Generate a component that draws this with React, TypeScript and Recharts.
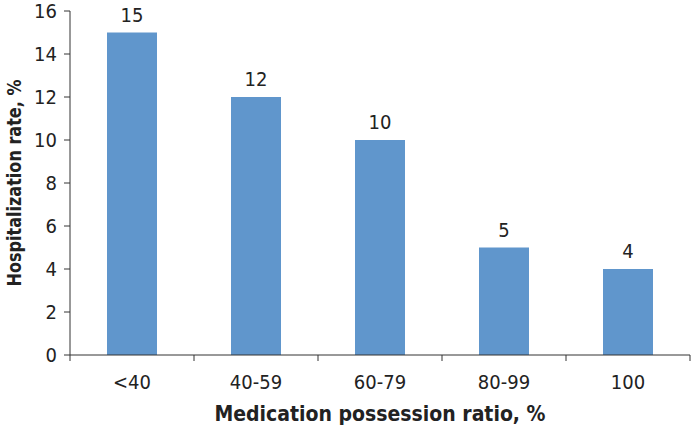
import React from 'react';
import { BarChart, Bar, XAxis, YAxis, LabelList } from 'recharts';

const categories = ['<40', '40-59', '60-79', '80-99', '100'];
const hospitalizationRate = [15, 12, 10, 5, 4];
const yTicks = [0, 2, 4, 6, 8, 10, 12, 14, 16];

const data = categories.map((ratio, i) => ({ ratio, rate: hospitalizationRate[i] }));

const FONT = '"DejaVu Sans Condensed", "Roboto", sans-serif';
const AXIS = '#333';
const TEXT = '#222';

const CategoryTick = (props: any) => {
    const { x, y, payload, index, visibleTicksCount, width } = props;
    const half = width / visibleTicksCount / 2;
    return (
        <g>
            <line x1={x - half} x2={x - half} y1={y} y2={y + 6} stroke={AXIS} />
            {index === visibleTicksCount - 1 && (
                <line x1={x + half} x2={x + half} y1={y} y2={y + 6} stroke={AXIS} />
            )}
            <text x={x} y={y + 34} textAnchor="middle" fill={TEXT} fontSize={20} fontFamily={FONT}>
                {payload.value}
            </text>
        </g>
    );
};

// rotated y title, squeezed to the narrow face of the original
const YTitle = (props: any) => {
    const { viewBox } = props;
    const cx = 14;
    const cy = viewBox.y + viewBox.height / 2;
    return (
        <text
            x={cx}
            y={cy}
            transform={`rotate(-90 ${cx} ${cy})`}
            textAnchor="middle"
            dominantBaseline="central"
            fill={TEXT}
            fontSize={20}
            fontWeight="bold"
            fontFamily={FONT}
            textLength={207}
            lengthAdjust="spacingAndGlyphs"
        >
            Hospitalization rate, %
        </text>
    );
};

export default function App() {
    return (
        <div style={{ position: 'absolute', left: 0, top: 0, background: '#fff' }}>
            <BarChart width={693} height={428} data={data} margin={{ top: 11, right: 3, left: 0, bottom: 0 }}>
                <XAxis
                    dataKey="ratio"
                    height={73}
                    axisLine={{ stroke: AXIS }}
                    tickLine={false}
                    tickSize={0}
                    tickMargin={0}
                    interval={0}
                    tick={<CategoryTick />}
                    label={{
                        value: 'Medication possession ratio, %',
                        position: 'insideBottom',
                        offset: 7,
                        fill: TEXT,
                        fontSize: 21,
                        fontWeight: 'bold',
                        fontFamily: FONT,
                    }}
                />
                <YAxis
                    width={70}
                    domain={[0, 16]}
                    ticks={yTicks}
                    interval={0}
                    axisLine={{ stroke: AXIS }}
                    tickLine={{ stroke: AXIS }}
                    tickSize={6}
                    tickMargin={7}
                    tick={{ fill: TEXT, fontSize: 20, fontFamily: FONT }}
                    label={<YTitle />}
                />
                <Bar dataKey="rate" fill="#6096cc" barSize={50} isAnimationActive={false}>
                    <LabelList
                        dataKey="rate"
                        position="top"
                        offset={11}
                        fill={TEXT}
                        fontSize={20}
                        fontFamily={FONT}
                    />
                </Bar>
            </BarChart>
        </div>
    );
}
